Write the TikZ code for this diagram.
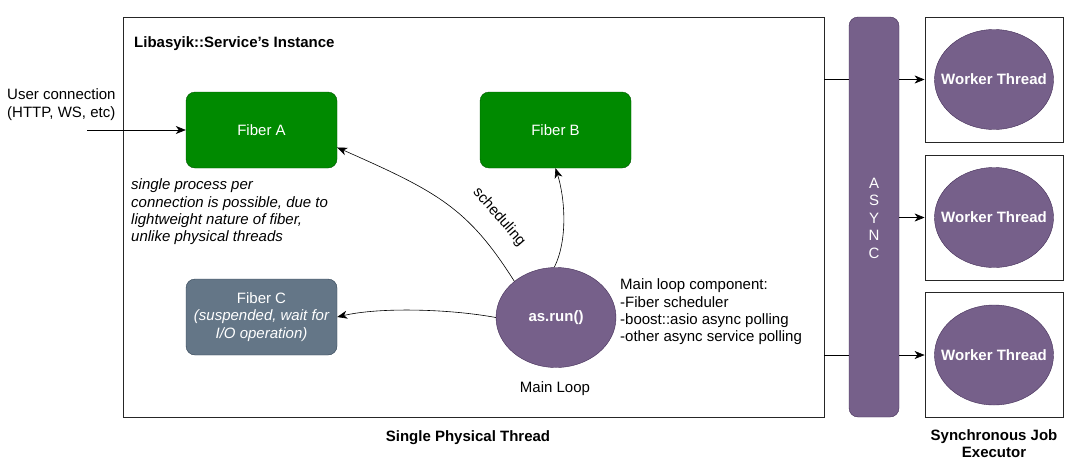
\documentclass[tikz,border=0pt]{standalone}
\usepackage{fontspec}
\setmainfont{Liberation Sans}
\usetikzlibrary{shapes.geometric,arrows.meta}
\definecolor{fibgreen}{HTML}{008A00}
\definecolor{fibgreenline}{HTML}{005700}
\definecolor{fibgray}{HTML}{647687}
\definecolor{fibgrayline}{HTML}{314354}
\definecolor{loopviolet}{HTML}{76608A}
\definecolor{loopvioletline}{HTML}{432D57}

\begin{document}
\begin{tikzpicture}[x=1pt,y=-1pt,font=\fontsize{15}{17.3}\selectfont,
  fiber/.style={draw=fibgreenline,fill=fibgreen,rounded corners=9pt,minimum width=151pt,minimum height=76pt,text=white,align=center},
  loop/.style={ellipse,draw=loopvioletline,fill=loopviolet,text=white,font=\fontsize{15}{17.3}\selectfont\bfseries},
  frame/.style={draw=black!85,thick},
  arr/.style={-{Stealth[length=10pt,width=8pt,inset=3pt]},semithick}]
\useasboundingbox (0,0) rectangle (1092,466);
\node[frame,minimum width=701pt,minimum height=400pt] (inst) at (473.5,217) {};
\node[anchor=west,inner sep=0pt,font=\fontsize{15}{17.3}\selectfont\bfseries] (title) at (134,44) {Libasyik::Service's Instance};
\node[fiber] (fibA) at (261.5,130) {Fiber A};
\node[fiber] (fibB) at (555.5,130) {Fiber B};
\node[fiber,draw=fibgrayline,fill=fibgray] (fibC) at (261.5,317) {Fiber C\\\itshape(suspended, wait for\\\itshape I/O operation)};
\node[loop,minimum width=120pt,minimum height=100pt,inner sep=0pt] (run) at (556,317.5) {as.run()};
\node (mainloop) at (555,389) {Main Loop};
\node[anchor=west,align=left,inner sep=0pt] (comp) at (620,312) {Main loop component:\\-Fiber scheduler\\-boost::asio async polling\\-other async service polling};
\node[anchor=west,align=left,inner sep=0pt,font=\fontsize{15}{17.3}\selectfont\itshape] (note) at (131,212) {single process per\\connection is possible, due to\\lightweight nature of fiber,\\unlike physical threads};
\node[anchor=west,align=left,inner sep=0pt] (user) at (7,104.5) {User connection\\(HTTP, WS, etc)};
\coordinate (userin) at (87,130);
\draw[arr] (userin) -- (fibA.west);
\draw[arr] (run.139) .. controls (468,208) and (438,192) .. (fibA.-13);
\node[rotate=-49,inner sep=1pt] (sched) at (499,217) {scheduling};
\draw[arr] (run.92) .. controls (568,240) and (565,198) .. (fibB.south);
\draw[arr] (run.west) .. controls (450,309) and (380,307) .. (fibC.east);
\node[font=\fontsize{15}{17.3}\selectfont\bfseries] (single) at (468,438) {Single Physical Thread};
\node[draw=loopvioletline,fill=loopviolet,rounded corners=9pt,minimum width=50pt,minimum height=400pt] (async) at (874,217) {};
\node[text=white,align=center,inner sep=0pt,font=\fontsize{15}{17.5}\selectfont] (asynctxt) at (874,218) {A\\S\\Y\\N\\C};
\foreach \i/\y in {1/79.5,2/217.5,3/355} {
  \node[frame,minimum width=138pt,minimum height=125pt] (box\i) at (994,\y) {};
  \node[loop,minimum width=119pt,minimum height=100pt,inner sep=0pt,
    label={[text=white,font=\fontsize{15}{17.3}\selectfont\bfseries]center:Worker Thread}] (worker\i) at (994,\y) {};
  \draw[arr] (async.east |- box\i.west) -- (box\i.west);
}
\draw[semithick] (inst.east |- box1.west) -- (async.west |- box1.west);
\draw[semithick] (inst.east |- box3.west) -- (async.west |- box3.west);
\node[align=center,font=\fontsize{15}{17.3}\selectfont\bfseries] (executor) at (994,443.5) {Synchronous Job\\Executor};
\end{tikzpicture}
\end{document}
